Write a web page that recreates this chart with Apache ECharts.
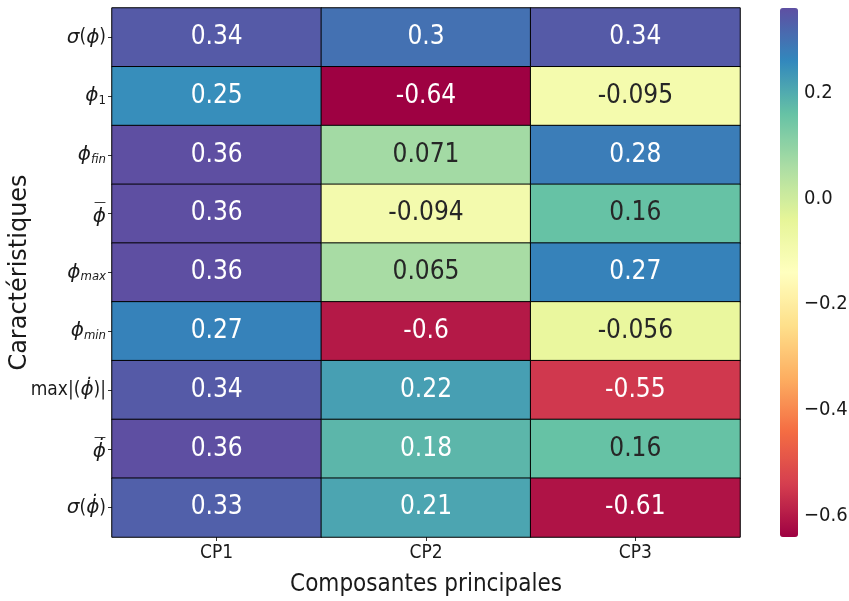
<!DOCTYPE html>
<html>
<head>
<meta charset="utf-8">
<script src="https://cdn.jsdelivr.net/npm/echarts@6/dist/echarts.min.js"></script>
<style>html,body{margin:0;padding:0;background:#fff}#c{width:849px;height:601px}</style>
</head>
<body>
<div id="c"></div>
<script>
// ---- data ----
var components = ['CP1', 'CP2', 'CP3'];
var features = [
  '{it|σ}({it|ϕ})',
  '{it|ϕ}{sub|1}',
  '{it|ϕ}{subi|fin}',
  '{ov|\u2014}\n{it|ϕ}',
  '{it|ϕ}{subi|max}',
  '{it|ϕ}{subi|min}',
  'max|({it|ϕ\u0307})|',
  '{ov|\u2014}\n{it|ϕ\u0307}',
  '{it|σ}({it|ϕ\u0307})'
];
var cp1 = [0.34, 0.25, 0.36, 0.36, 0.36, 0.27, 0.34, 0.36, 0.33];
var cp2 = [0.3, -0.64, 0.071, -0.094, 0.065, -0.6, 0.22, 0.18, 0.21];
var cp3 = [0.34, -0.095, 0.28, 0.16, 0.27, -0.056, -0.55, 0.16, -0.61];
var colorbarTicks = [-0.6, -0.4, -0.2, 0.0, 0.2];
var vMin = -0.64, vMax = 0.36;
var xTitle = 'Composantes principales';
var yTitle = 'Caractéristiques';

var spectral = ['#9e0142','#d53e4f','#f46d43','#fdae61','#fee08b','#ffffbf','#e6f598','#abdda4','#66c2a5','#3288bd','#5e4fa2'];

function hex2rgb(h){return [parseInt(h.substr(1,2),16),parseInt(h.substr(3,2),16),parseInt(h.substr(5,2),16)];}
function cmap(v){
  var t = (v - vMin)/(vMax - vMin); t = Math.max(0, Math.min(1, t));
  var p = t*(spectral.length-1), i = Math.min(Math.floor(p), spectral.length-2), f = p - i;
  var a = hex2rgb(spectral[i]), b = hex2rgb(spectral[i+1]);
  return [0,1,2].map(function(k){return a[k]+(b[k]-a[k])*f;});
}
function lum(rgb){
  var c = rgb.map(function(x){x/=255;return x<=0.03928?x/12.92:Math.pow((x+0.055)/1.055,2.4);});
  return 0.2126*c[0]+0.7152*c[1]+0.0722*c[2];
}

var cols = [cp1, cp2, cp3];
var data = [];
cols.forEach(function(col, xi){
  col.forEach(function(v, yi){
    data.push({value:[xi, yi, v], label:{color: lum(cmap(v)) > 0.408 ? '#262626' : '#ffffff'}});
  });
});

var FONT = '"DejaVu Sans Condensed", "DejaVu Sans", sans-serif';
var TXT = '#1a1a1a';
var chart = echarts.init(document.getElementById('c'), null, {renderer:'canvas'});
chart.setOption({
  animation:false,
  backgroundColor:'#fff',
  textStyle:{fontFamily:FONT},
  grid:[
    {left:112, right:109, top:8, bottom:64, outerBoundsMode:'none', containLabel:false},
    {left:780, width:18, top:8, height:529, outerBoundsMode:'none', containLabel:false}
  ],
  xAxis:[
    {type:'category', data:components, gridIndex:0,
     axisLine:{show:false}, axisTick:{show:true, alignWithLabel:true, length:4, lineStyle:{color:'#333'}},
     axisLabel:{fontSize:19, color:TXT, fontFamily:FONT, margin:7},
     name:xTitle, nameLocation:'middle', nameGap:36, nameMoveOverlap:false,
     nameTextStyle:{fontSize:24, color:TXT, fontFamily:FONT},
     splitLine:{show:false}},
    {type:'value', gridIndex:1, show:false, min:0, max:1}
  ],
  yAxis:[
    {type:'category', data:features, inverse:true, gridIndex:0,
     axisLine:{show:false}, axisTick:{show:true, alignWithLabel:true, length:4, lineStyle:{color:'#333'}},
     axisLabel:{fontSize:19, color:TXT, fontFamily:FONT, margin:6, lineHeight:22,
       rich:{
         it:{fontStyle:'italic', fontSize:20, fontFamily:'"DejaVu Sans", sans-serif', color:TXT, lineHeight:22},
         sub:{fontSize:13, verticalAlign:'bottom', padding:[10,0,0,0], color:TXT, fontFamily:FONT},
         subi:{fontSize:13, fontStyle:'italic', verticalAlign:'bottom', padding:[10,0,0,0], color:TXT, fontFamily:FONT},
         ov:{fontSize:12, lineHeight:6, color:TXT, fontFamily:'"DejaVu Sans", sans-serif', padding:[0,0,0,0]}
       }},
     name:yTitle, nameLocation:'middle', nameGap:80, nameRotate:90, nameMoveOverlap:false,
     nameTextStyle:{fontSize:24, color:TXT, fontFamily:'"DejaVu Sans", sans-serif'},
     splitLine:{show:false}},
    {type:'value', gridIndex:1, position:'right', min:vMin, max:vMax,
     axisLine:{show:false}, splitLine:{show:false},
     axisTick:{show:true, length:4, customValues:colorbarTicks, lineStyle:{color:'#333'}},
     axisLabel:{fontSize:20, color:TXT, fontFamily:FONT, margin:6, customValues:colorbarTicks,
       formatter:function(v){return (v<0?'\u2212':'')+Math.abs(v).toFixed(1);}}}
  ],
  visualMap:{
    type:'continuous', min:vMin, max:vMax, dimension:2, seriesIndex:0,
    inRange:{color:spectral},
    show:true, calculable:false, left:780, top:8, itemWidth:18, itemHeight:529,
    padding:0, text:null, showLabel:false, hoverLink:false
  },
  series:[{
    type:'heatmap', xAxisIndex:0, yAxisIndex:0, data:data,
    itemStyle:{borderColor:'#000', borderWidth:1},
    label:{show:true, fontSize:26, fontFamily:FONT,
      formatter:function(p){return String(p.value[2]);}},
    emphasis:{disabled:true}
  }]
});
</script>
</body>
</html>
